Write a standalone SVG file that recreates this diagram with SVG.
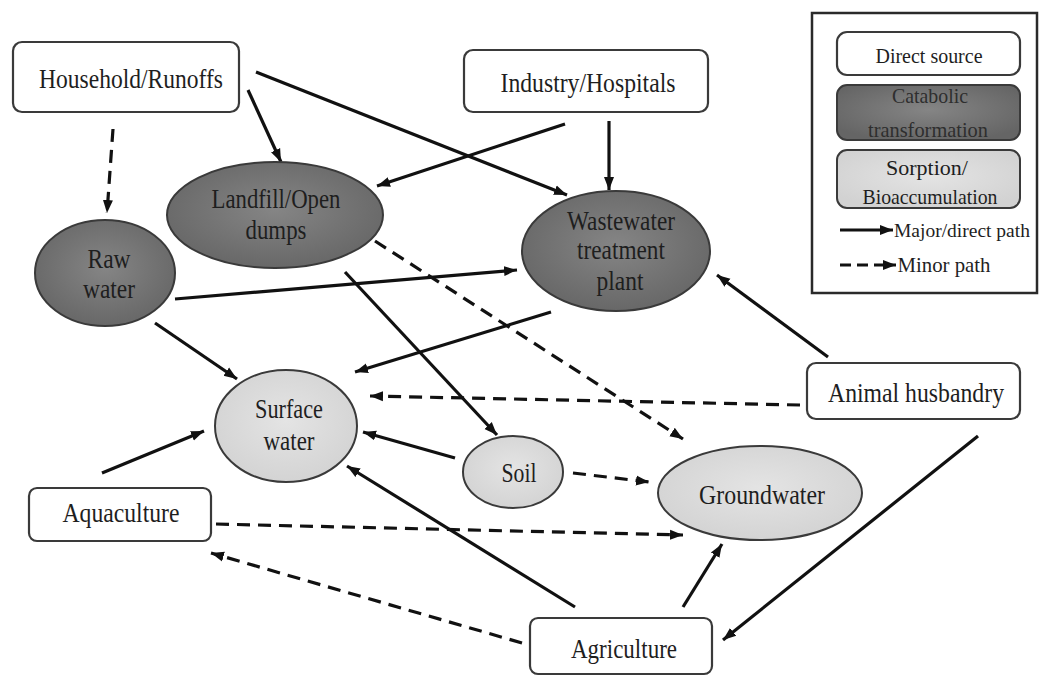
<svg xmlns="http://www.w3.org/2000/svg" width="1039" height="676" viewBox="0 0 1039 676" font-family="'Liberation Serif', 'DejaVu Serif', serif">
<style>
  text { font-family: "Liberation Serif", "DejaVu Serif", serif; fill: #1e1e1e; text-anchor: middle; }
  .t { font-size: 28px; }
  .lg { font-size: 22px; }
  .box { fill: #ffffff; stroke: #3a3a3a; stroke-width: 2.2; }
  .dark { fill: url(#gDark); stroke: #3a3a3a; stroke-width: 2; }
  .light { fill: url(#gLight); stroke: #3a3a3a; stroke-width: 2; }
  .c { fill: none; stroke: #111; stroke-width: 3.2; marker-end: url(#ah); }
  .d { stroke-dasharray: 13 8; }
  .dt { fill: #2e2e2e; }
</style>
<defs>
  <radialGradient id="gDark" cx="50%" cy="45%" r="60%">
    <stop offset="0" stop-color="#858585"/>
    <stop offset="1" stop-color="#656565"/>
  </radialGradient>
  <radialGradient id="gLight" cx="50%" cy="45%" r="60%">
    <stop offset="0" stop-color="#e4e4e4"/>
    <stop offset="1" stop-color="#d2d2d2"/>
  </radialGradient>
  <marker id="ah" markerUnits="userSpaceOnUse" markerWidth="14" markerHeight="12" refX="13" refY="6" orient="auto">
    <path d="M0,1 L13,6 L0,11 Z" fill="#111"/>
  </marker>
</defs>
<rect width="1039" height="676" fill="#ffffff"/>

<g id="connectors">
  <line class="c d" x1="113" y1="129" x2="107" y2="213"/>
  <line class="c" x1="248" y1="90" x2="281" y2="162"/>
  <line class="c" x1="256" y1="72" x2="567" y2="195"/>
  <line class="c" x1="565" y1="124" x2="377" y2="186"/>
  <line class="c" x1="609" y1="121" x2="609" y2="190"/>
  <line class="c" x1="175" y1="299" x2="517" y2="270"/>
  <line class="c d" x1="375" y1="241" x2="683" y2="439"/>
  <line class="c" x1="345" y1="272" x2="497" y2="435"/>
  <line class="c" x1="155" y1="323" x2="237" y2="379"/>
  <line class="c" x1="551" y1="312" x2="355" y2="372"/>
  <line class="c" x1="828" y1="357" x2="717" y2="275"/>
  <line class="c d" x1="800" y1="405" x2="370" y2="396"/>
  <line class="c" x1="455" y1="458" x2="363" y2="432"/>
  <line class="c" x1="102" y1="473" x2="204" y2="431"/>
  <line class="c d" x1="573" y1="473" x2="649" y2="482"/>
  <line class="c d" x1="216" y1="524" x2="683" y2="535"/>
  <line class="c d" x1="522" y1="643" x2="211" y2="553"/>
  <line class="c" x1="575" y1="607" x2="347" y2="466"/>
  <line class="c" x1="683" y1="607" x2="722" y2="544"/>
  <line class="c" x1="978" y1="436" x2="723" y2="640"/>
</g>

<g id="household">
  <rect class="box" x="13" y="42" width="226" height="70" rx="9"/>
  <text class="t" x="131" y="88" textLength="184" lengthAdjust="spacingAndGlyphs">Household/Runoffs</text>
</g>
<g id="industry">
  <rect class="box" x="464" y="50" width="244" height="62" rx="9"/>
  <text class="t" x="588" y="92" textLength="175" lengthAdjust="spacingAndGlyphs">Industry/Hospitals</text>
</g>
<g id="landfill">
  <ellipse class="dark" cx="275" cy="215" rx="108" ry="53"/>
  <text class="t" x="276" y="208" textLength="129" lengthAdjust="spacingAndGlyphs">Landfill/Open</text>
  <text class="t" x="276" y="239" textLength="61" lengthAdjust="spacingAndGlyphs">dumps</text>
</g>
<g id="rawwater">
  <ellipse class="dark" cx="105" cy="273" rx="70" ry="53"/>
  <text class="t" x="109" y="268" textLength="43" lengthAdjust="spacingAndGlyphs">Raw</text>
  <text class="t" x="109" y="298" textLength="52" lengthAdjust="spacingAndGlyphs">water</text>
</g>
<g id="wwtp">
  <ellipse class="dark" cx="616" cy="251" rx="94" ry="60"/>
  <text class="t" x="621" y="230" textLength="108" lengthAdjust="spacingAndGlyphs">Wastewater</text>
  <text class="t" x="621" y="259" textLength="88" lengthAdjust="spacingAndGlyphs">treatment</text>
  <text class="t" x="620" y="290" textLength="47" lengthAdjust="spacingAndGlyphs">plant</text>
</g>
<g id="surfacewater">
  <ellipse class="light" cx="286" cy="426" rx="71" ry="56"/>
  <text class="t" x="289" y="418" textLength="68" lengthAdjust="spacingAndGlyphs">Surface</text>
  <text class="t" x="289" y="450" textLength="51" lengthAdjust="spacingAndGlyphs">water</text>
</g>
<g id="soil">
  <ellipse class="light" cx="513" cy="472" rx="50" ry="36"/>
  <text class="t" x="519" y="482" textLength="35" lengthAdjust="spacingAndGlyphs">Soil</text>
</g>
<g id="groundwater">
  <ellipse class="light" cx="760" cy="493" rx="102" ry="47"/>
  <text class="t" x="762" y="504" textLength="126" lengthAdjust="spacingAndGlyphs">Groundwater</text>
</g>
<g id="animal">
  <rect class="box" x="807" y="363" width="213" height="56" rx="9"/>
  <text class="t" x="916" y="402" textLength="176" lengthAdjust="spacingAndGlyphs">Animal husbandry</text>
</g>
<g id="aquaculture">
  <rect class="box" x="29" y="488" width="182" height="53" rx="8"/>
  <text class="t" x="121" y="522" textLength="117" lengthAdjust="spacingAndGlyphs">Aquaculture</text>
</g>
<g id="agriculture">
  <rect class="box" x="530" y="618" width="182" height="56" rx="8"/>
  <text class="t" x="624" y="658" textLength="106" lengthAdjust="spacingAndGlyphs">Agriculture</text>
</g>

<g id="legend">
  <rect x="812" y="13" width="225" height="280" fill="#ffffff" stroke="#2a2a2a" stroke-width="2.5"/>
  <rect class="box" x="837" y="32" width="183" height="43" rx="10"/>
  <text class="lg" x="929" y="63" textLength="107" lengthAdjust="spacingAndGlyphs">Direct source</text>
  <rect class="dark" x="837" y="85" width="183" height="55" rx="10"/>
  <text class="lg dt" x="930" y="103" textLength="76" lengthAdjust="spacingAndGlyphs">Catabolic</text>
  <text class="lg dt" x="928" y="137" textLength="120" lengthAdjust="spacingAndGlyphs">transformation</text>
  <rect class="light" x="837" y="150" width="183" height="58" rx="10"/>
  <text class="lg" x="927" y="175" textLength="82" lengthAdjust="spacingAndGlyphs">Sorption/</text>
  <text class="lg" x="930" y="204" textLength="135" lengthAdjust="spacingAndGlyphs">Bioaccumulation</text>
  <line class="c" x1="840" y1="230" x2="893" y2="230"/>
  <text x="894" y="237" style="font-size:19.5px; text-anchor:start">Major/direct path</text>
  <line class="c d" x1="840" y1="265" x2="896" y2="265" style="stroke-dasharray:11 6"/>
  <text class="lg" x="944" y="272" textLength="93" lengthAdjust="spacingAndGlyphs">Minor path</text>
</g>
</svg>
